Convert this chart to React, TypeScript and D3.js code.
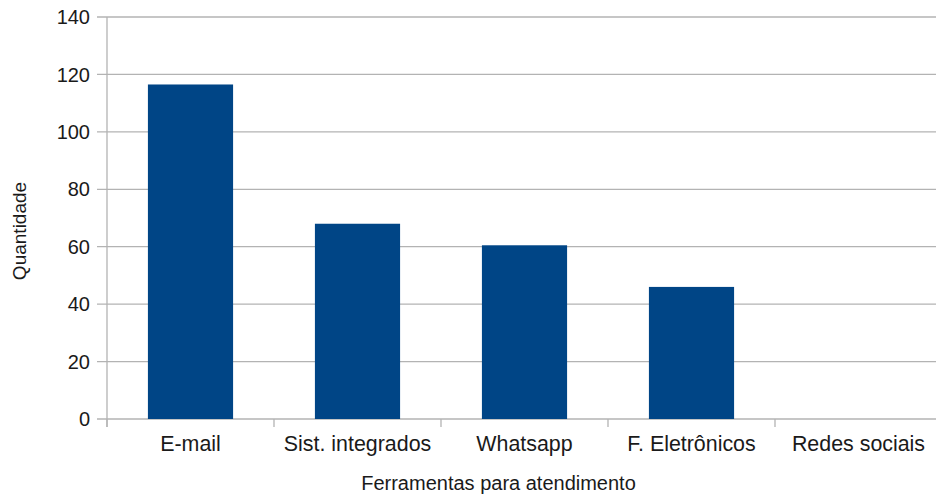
import React from "react";
import * as d3 from "d3";

const categories = ["E-mail", "Sist. integrados", "Whatsapp", "F. Eletrônicos", "Redes sociais"];
const values = [116.5, 68, 60.5, 46, 0];
const yTicks = [0, 20, 40, 60, 80, 100, 120, 140];
const xTitle = "Ferramentas para atendimento";
const yTitle = "Quantidade";

const W = 936;
const H = 496;
const left = 107;
const right = 942;
const top = 17;
const bottom = 419;
const font = "'Liberation Sans', Arial, sans-serif";

export default function App() {
  const x = d3.scaleBand<string>().domain(categories).range([left, right]).paddingInner(0).paddingOuter(0);
  const y = d3.scaleLinear().domain([0, 140]).range([bottom, top]);
  const barW = x.bandwidth() * 0.51;

  return (
    <svg width={W} height={H} style={{ position: "absolute", left: 0, top: 0, background: "#fff" }}>
      {yTicks.map((t) => (
        <g key={t}>
          <line x1={left - 10} x2={right} y1={y(t)} y2={y(t)} stroke="#b3b3b3" strokeWidth={1.3} />
          <text x={90} y={y(t)} dy="0.36em" textAnchor="end" fontFamily={font} fontSize={20} fill="#1a1a1a">
            {t}
          </text>
        </g>
      ))}
      <line x1={left} x2={left} y1={top} y2={bottom + 8} stroke="#b3b3b3" strokeWidth={1.3} />
      {categories.map((c) => (
        <line key={c} x1={x(c)!} x2={x(c)!} y1={bottom} y2={bottom + 8} stroke="#b3b3b3" strokeWidth={1.3} />
      ))}
      {categories.map((c, i) => (
        <rect
          key={c}
          x={x(c)! + (x.bandwidth() - barW) / 2}
          y={y(values[i])}
          width={barW}
          height={bottom - y(values[i])}
          fill="#004586"
        />
      ))}
      {categories.map((c) => (
        <text key={c} x={x(c)! + x.bandwidth() / 2} y={451} textAnchor="middle" fontFamily={font} fontSize={21.4} fill="#1a1a1a">
          {c}
        </text>
      ))}
      <text x={(left + right) / 2 - 26} y={490} textAnchor="middle" fontFamily={font} fontSize={20} fill="#1a1a1a">
        {xTitle}
      </text>
      <text
        transform={`translate(26, 231) rotate(-90)`}
        textAnchor="middle"
        fontFamily={font}
        fontSize={19}
        fill="#1a1a1a"
      >
        {yTitle}
      </text>
    </svg>
  );
}
